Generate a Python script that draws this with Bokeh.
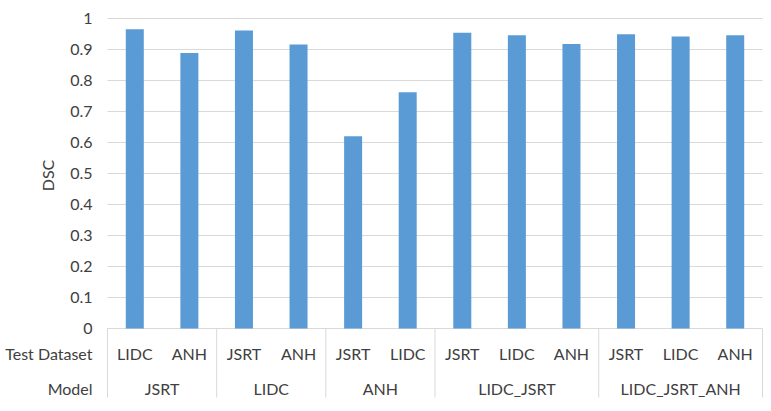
import math
from bokeh.plotting import figure
from bokeh.models import ColumnDataSource, Range1d
from bokeh.core.properties import value
from bokeh.embed import file_html
from bokeh.resources import INLINE

# ---- data ----
models = ["JSRT", "JSRT", "LIDC", "LIDC", "ANH", "ANH",
          "LIDC_JSRT", "LIDC_JSRT", "LIDC_JSRT",
          "LIDC_JSRT_ANH", "LIDC_JSRT_ANH", "LIDC_JSRT_ANH"]
tests = ["LIDC", "ANH", "JSRT", "ANH", "JSRT", "LIDC",
         "JSRT", "LIDC", "ANH", "JSRT", "LIDC", "ANH"]
dsc = [0.965, 0.889, 0.961, 0.916, 0.620, 0.762,
       0.954, 0.946, 0.918, 0.949, 0.942, 0.946]
y_ticks = [0, 0.1, 0.2, 0.3, 0.4, 0.5, 0.6, 0.7, 0.8, 0.9, 1]
y_tick_labels = ["0", "0.1", "0.2", "0.3", "0.4", "0.5", "0.6", "0.7", "0.8", "0.9", "1"]
row_titles = ["Test Dataset", "Model"]
y_title = "DSC"

# ---- style / layout ----
FONT = "Lato"
FS = "16px"
GRID = "#D9D9D9"
TXT = "#404040"
BAR = "#5B9BD5"
W, H = 771, 411
PLOT_L, PLOT_R = 107, 762      # pixel extent of the category area
PLOT_Y0, PLOT_Y1 = 328, 18     # pixel rows of value 0 and value 1

n = len(dsc)
xs = list(range(n))
kx = (PLOT_R - PLOT_L) / n
ky = PLOT_Y0 - PLOT_Y1
x_start = -0.5 - PLOT_L / kx
x_end = -0.5 + (W - PLOT_L) / kx
y_end = PLOT_Y0 / ky
y_start = -(H - PLOT_Y0) / ky

LBL_X = -0.5 - 15 / kx          # right edge of value labels
TITLE_X = -0.5 - 60 / kx        # centre of rotated y title
TITLE_Y = 0.4935
ROW1_Y = -0.0806
ROW2_Y = -0.1935
TABLE_BOTTOM = -0.2226

groups = []
for i, m in enumerate(models):
    if not groups or groups[-1][0] != m:
        groups.append([m, i, i])
    else:
        groups[-1][2] = i
group_names = [g[0] for g in groups]
group_centers = [(g[1] + g[2]) / 2 for g in groups]
boundaries = [groups[0][1] - 0.5] + [g[2] + 0.5 for g in groups]

p = figure(width=W, height=H, output_backend="svg", toolbar_location=None,
           x_range=Range1d(x_start, x_end), y_range=Range1d(y_start, y_end),
           min_border=0)
p.outline_line_color = None
p.axis.visible = False
p.grid.visible = False

# gridlines
p.segment(x0=[-0.5] * len(y_ticks), y0=y_ticks, x1=[n - 0.5] * len(y_ticks),
          y1=y_ticks, line_color=GRID, line_width=1)

# bars
src = ColumnDataSource(dict(x=xs, top=dsc, test=tests))
p.vbar(x="x", top="top", bottom=0, width=0.33, source=src,
       fill_color=BAR, line_color=None)

# value labels
p.text(x=[LBL_X] * len(y_ticks), y=y_ticks, text=y_tick_labels,
       text_align="right", text_baseline="middle", text_font=value(FONT),
       text_font_size=FS, text_color=TXT)

# table separators
p.segment(x0=boundaries, y0=[0] * len(boundaries), x1=boundaries,
          y1=[TABLE_BOTTOM] * len(boundaries), line_color=GRID, line_width=1)

# category labels
p.text(x="x", y=ROW1_Y, text="test", source=src, text_align="center",
       text_baseline="middle", text_font=value(FONT), text_font_size=FS,
       text_color=TXT)
p.text(x=group_centers, y=[ROW2_Y] * len(groups), text=group_names,
       text_align="center", text_baseline="middle", text_font=value(FONT),
       text_font_size=FS, text_color=TXT)

# row titles
p.text(x=[LBL_X] * 2, y=[ROW1_Y, ROW2_Y], text=row_titles,
       text_align="right", text_baseline="middle", text_font=value(FONT),
       text_font_size=FS, text_color=TXT)

# y title
p.text(x=[TITLE_X], y=[TITLE_Y], text=[y_title], angle=math.pi / 2,
       text_align="center", text_baseline="middle", text_font=value(FONT),
       text_font_size=FS, text_color=TXT)

open("out.html", "w").write(file_html(p, INLINE))
